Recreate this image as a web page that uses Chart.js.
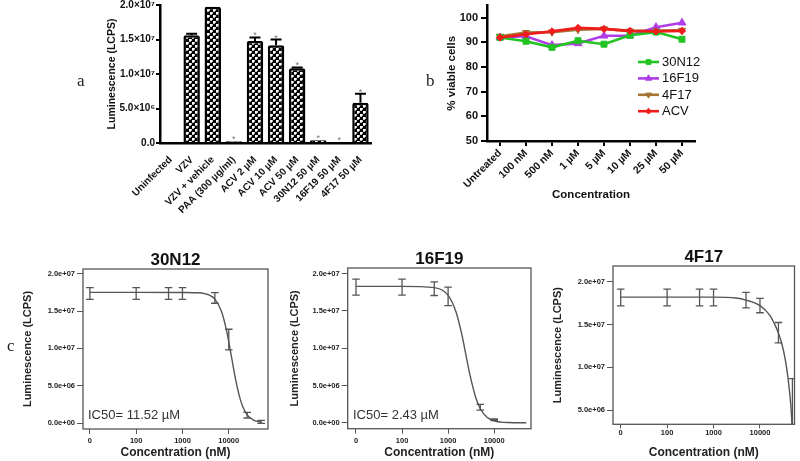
<!DOCTYPE html>
<html><head><meta charset="utf-8">
<script src="https://cdn.jsdelivr.net/npm/chart.js@4/dist/chart.umd.min.js"></script>
<style>
html,body{margin:0;padding:0;background:#fff;}
#wrap{position:relative;width:800px;height:461px;overflow:hidden;background:#fff;font-family:"Liberation Sans",Arial,sans-serif;}
canvas{position:absolute;}
.lbl{position:absolute;font-family:"Liberation Serif","Times New Roman",serif;font-size:17px;color:#222;line-height:1;}
.ic50{position:absolute;font-size:13px;color:#333;line-height:1;white-space:nowrap;}
</style></head><body>
<div id="wrap">
<canvas id="ca" width="400" height="240" style="left:0;top:0"></canvas>
<canvas id="cb" width="310" height="240" style="left:400px;top:0"></canvas>
<canvas id="c1" width="275" height="221" style="left:0;top:240px"></canvas>
<canvas id="c2" width="270" height="221" style="left:270px;top:240px"></canvas>
<canvas id="c3" width="270" height="221" style="left:530px;top:240px"></canvas>
<div class="lbl" style="left:77px;top:72px">a</div>
<div class="lbl" style="left:426px;top:72px">b</div>
<div class="lbl" style="left:7px;top:337px">c</div>
<div class="ic50" style="left:88px;top:408px">IC50= 11.52 µM</div>
<div class="ic50" style="left:353px;top:408px">IC50= 2.43 µM</div>
</div>
<script>
// ---------- Panel a data ----------
const aLabels = ['Uninfected','VZV','VZV + vehicle','PAA (300 µg/ml)','ACV 2 µM','ACV 10 µM','ACV 50 µM','30N12 50 µM','16F19 50 µM','4F17 50 µM'];
const aValues = [0, 15.6e6, 19.75e6, 0.25e6, 14.8e6, 14.15e6, 10.85e6, 0.4e6, 0.15e6, 5.84e6];
const aErrors = [0, 0.25e6, 0, 0, 0.5e6, 0.85e6, 0.1e6, 0, 0, 1.3e6];
const aStars  = [false,false,false,true,true,true,true,true,true,true];
const aTickValues = [0, 5e6, 1e7, 1.5e7, 2e7];
const aTickLabels = ['0.0','5.0×10⁶','1.0×10⁷','1.5×10⁷','2.0×10⁷'];

// ---------- Panel b data ----------
const bLabels = ['Untreated','100 nM','500 nM','1 µM','5 µM','10 µM','25 µM','50 µM'];
const b30N12 = [92.0, 90.5, 88.0, 90.7, 89.3, 92.9, 94.2, 91.3];
const b16F19 = [92.0, 92.5, 88.9, 89.6, 92.7, 92.7, 96.2, 98.0];
const b4F17  = [92.5, 94.0, 94.2, 95.2, 95.5, 94.6, 94.8, 94.9];
const bACV   = [92.0, 93.3, 94.5, 95.9, 95.5, 94.7, 94.5, 94.7];
const bNames = ['30N12','16F19','4F17','ACV'];

// ---------- Panel c data ----------
const cDoses = [0, 100, 500, 1000, 5000, 10000, 25000, 50000];   // nM ("0" shown at the 10 nM position)
const cTickValues = [10, 100, 1000, 10000];
const cTickLabels = ['0','100','1000','10000'];
const cYTickValues = [0, 5e6, 1e7, 1.5e7, 2e7];
const cYTickLabels = ['0.0e+00','5.0e+06','1.0e+07','1.5e+07','2.0e+07'];

const c1Means = [1.735e7, 1.735e7, 1.735e7, 1.735e7, 1.675e7, 1.118e7, 0.105e7, 0.015e7];
const c1Errs  = [0.078e7, 0.078e7, 0.078e7, 0.078e7, 0.071e7, 0.138e7, 0.038e7, 0.02e7];
const c1CurveX = [10, 100, 1000, 2000, 3000, 5000, 7000, 9000, 11520, 14000, 17000, 20000, 25000, 35000, 50000];
const c1CurveY = [1.75e7, 1.75e7, 1.748e7, 1.745e7, 1.734e7, 1.66e7, 1.49e7, 1.23e7, 0.875e7, 0.587e7, 0.357e7, 0.222e7, 0.109e7, 0.035e7, 0.01e7];

const c2Doses = [0, 100, 500, 1000, 5000, 10000];
const c2Means = [1.821e7, 1.821e7, 1.80e7, 1.696e7, 0.208e7, 0.04e7];
const c2Errs  = [0.107e7, 0.107e7, 0.092e7, 0.125e7, 0.038e7, 0.01e7];
const c2CurveX = [10, 100, 500, 1000, 1500, 2000, 2430, 3000, 4000, 5000, 7000, 10000, 20000, 50000];
const c2CurveY = [1.83e7, 1.83e7, 1.814e7, 1.71e7, 1.48e7, 1.175e7, 0.915e7, 0.635e7, 0.335e7, 0.188e7, 0.073e7, 0.026e7, 0.003e7, 0];

const c3Means = [1.816e7, 1.816e7, 1.816e7, 1.816e7, 1.785e7, 1.721e7, 1.404e7, 0.45e7];
const c3Errs  = [0.098e7, 0.098e7, 0.098e7, 0.098e7, 0.09e7, 0.084e7, 0.119e7, 0.417e7];
const c3CurveX = [10, 1000, 3000, 5000, 10000, 16200, 20000, 25400, 30000, 34200, 37200, 40300, 43800, 47600, 49000, 50000];
const c3CurveY = [1.82e7, 1.82e7, 1.81e7, 1.785e7, 1.72e7, 1.61e7, 1.52e7, 1.39e7, 1.26e7, 1.121e7, 1.004e7, 0.867e7, 0.691e7, 0.457e7, 0.30e7, 0.1e7];

// ---------- common ----------
const SANS = '"Liberation Sans", Arial, sans-serif';
Chart.defaults.font.family = SANS;
Chart.defaults.color = '#111';
Chart.defaults.animation = false;

// ---------- Panel a ----------
(function(){
  const cv = document.getElementById('ca');
  const ctx = cv.getContext('2d');
  const pc = document.createElement('canvas'); pc.width = 6; pc.height = 6;
  const g = pc.getContext('2d');
  g.fillStyle = '#000'; g.fillRect(0,0,6,6);
  g.fillStyle = '#fff'; g.fillRect(0,0,2,2); g.fillRect(3,3,2,2);
  g.fillStyle = '#bbb'; g.fillRect(2,0,1,2); g.fillRect(0,2,2,1); g.fillRect(5,3,1,2); g.fillRect(3,5,2,1);
  const pattern = ctx.createPattern(pc, 'repeat');

  const errPlugin = {
    id: 'aErr',
    afterDatasetsDraw(chart){
      const c = chart.ctx, meta = chart.getDatasetMeta(0), y = chart.scales.y;
      c.save();
      meta.data.forEach((bar, i) => {
        const base = y.getPixelForValue(aValues[i]);
        const top = y.getPixelForValue(aValues[i] + aErrors[i]);
        if (aErrors[i] > 0) {
          c.strokeStyle = '#000'; c.lineWidth = 2;
          c.beginPath(); c.moveTo(bar.x, base); c.lineTo(bar.x, top);
          c.moveTo(bar.x - 5.5, top); c.lineTo(bar.x + 5.5, top); c.stroke();
        }
        if (aStars[i]) {
          c.fillStyle = '#777'; c.font = '9px ' + SANS; c.textAlign = 'center'; c.textBaseline = 'alphabetic';
          c.fillText('*', bar.x, top + 1);
        }
      });
      c.restore();
    }
  };

  new Chart(cv, {
    type: 'bar',
    data: { labels: aLabels, datasets: [{ data: aValues, backgroundColor: pattern, borderColor: '#000', borderWidth: 2.5,
      barPercentage: 0.78, categoryPercentage: 1, borderSkipped: 'bottom', borderRadius: {topLeft: 2, topRight: 2} }] },
    options: {
      responsive: false, animation: false,
      layout: { padding: { left: 105.7, right: 29, top: 5, bottom: 0 } },
      plugins: { legend: { display: false }, tooltip: { enabled: false } },
      scales: {
        x: {
          grid: { display: false }, border: { display: true, width: 2.5, color: '#000' },
          ticks: { autoSkip: false, minRotation: 45, maxRotation: 45, font: { size: 10, weight: 'bold' }, color: '#111', padding: 3 },
          afterFit: s => { s.height = 97; s.paddingLeft = 0; s.paddingRight = 0; }
        },
        y: {
          min: 0, max: 2e7,
          ticks: { stepSize: 5e6, callback: v => aTickLabels[aTickValues.indexOf(v)], font: { size: 10, weight: 'bold' }, color: '#111', padding: 1 },
          grid: { drawOnChartArea: false, tickLength: 4, color: '#000', lineWidth: 2 },
          border: { display: true, width: 2.5, color: '#000' },
          title: { display: true, text: 'Luminescence (LCPS)', font: { size: 10.5, weight: 'bold' }, color: '#111', padding: 0 },
          afterFit: s => { s.width = 54.3; s.paddingTop = 0; s.paddingBottom = 0; }
        }
      }
    },
    plugins: [errPlugin]
  });
})();

// ---------- Panel b ----------
(function(){
  const cv = document.getElementById('cb');
  const colors = ['#22c322', '#b03ee6', '#a57535', '#f01c1c'];
  const styles = [
    { pointStyle: 'rect', rotation: 0, radius: 4.2 },
    { pointStyle: 'triangle', rotation: 0, radius: 4.5 },
    { pointStyle: 'triangle', rotation: 180, radius: 4.2 },
    { pointStyle: 'rectRot', rotation: 0, radius: 3.6 }
  ];
  const series = [b30N12, b16F19, b4F17, bACV];
  const orders = [1, 2, 3, 0];
  const datasets = series.map((d, i) => ({
    label: bNames[i], data: d, borderColor: colors[i], backgroundColor: colors[i], borderWidth: 2.6,
    pointStyle: styles[i].pointStyle, pointRotation: styles[i].rotation, pointRadius: styles[i].radius,
    pointBorderWidth: 1, tension: 0, order: orders[i]
  }));
  const legendPlugin = {
    id: 'bLegend',
    afterDraw(chart){
      const c = chart.ctx;
      c.save();
      bNames.forEach((n, i) => {
        const y = 62 + i * 16.4;
        c.strokeStyle = colors[i]; c.lineWidth = 2.6;
        c.beginPath(); c.moveTo(238, y); c.lineTo(259, y); c.stroke();
        c.fillStyle = colors[i]; c.strokeStyle = colors[i]; c.lineWidth = 1;
        Chart.helpers.drawPoint(c, { pointStyle: styles[i].pointStyle, rotation: styles[i].rotation, radius: styles[i].radius * 0.8, borderWidth: 1 }, 248.5, y);
        c.fillStyle = '#111'; c.font = '13px ' + SANS; c.textAlign = 'left'; c.textBaseline = 'middle';
        c.fillText(n, 262, y + 0.5);
      });
      c.restore();
    }
  };
  new Chart(cv, {
    type: 'line',
    data: { labels: bLabels, datasets },
    options: {
      responsive: false, animation: false,
      layout: { padding: { left: 44.8, right: 15, top: 3, bottom: 38.1 } },
      plugins: { legend: { display: false }, tooltip: { enabled: false } },
      scales: {
        x: {
          offset: true,
          grid: { display: true, drawOnChartArea: false, tickLength: 5, color: '#000', lineWidth: 2 },
          border: { display: true, width: 2.5, color: '#000' },
          ticks: { autoSkip: false, minRotation: 45, maxRotation: 45, font: { size: 10.5, weight: 'bold' }, color: '#111', padding: 1 },
          title: { display: true, text: 'Concentration', font: { size: 11.5, weight: 'bold' }, color: '#111', padding: 0 },
          afterFit: s => { s.height = 60.9; s.paddingLeft = 0; s.paddingRight = 0; }
        },
        y: {
          min: 50, max: 105,
          ticks: { stepSize: 10, font: { size: 11, weight: 'bold' }, color: '#111', padding: 3 },
          afterBuildTicks: s => { s.ticks = s.ticks.filter(t => t.value % 10 === 0); },
          grid: { drawOnChartArea: false, tickLength: 6, color: '#000', lineWidth: 2 },
          border: { display: true, width: 2.5, color: '#000' },
          title: { display: true, text: '% viable cells', font: { size: 11.5, weight: 'bold' }, color: '#111', padding: 0 },
          afterFit: s => { s.width = 42.2; s.paddingTop = 0; s.paddingBottom = 0; }
        }
      }
    },
    plugins: [legendPlugin]
  });
})();

// ---------- Panel c ----------
function cChart(id, title, doses, means, errs, curveX, curveY, g) {
  const pts = doses.map((d, i) => ({ x: d === 0 ? 10 : d, y: means[i] }));
  const curve = curveX.map((x, i) => ({ x, y: curveY[i] }));
  const framePlugin = {
    id: 'frame',
    afterDraw(chart){
      const { left, top, right, bottom } = chart.chartArea, c = chart.ctx;
      c.save(); c.strokeStyle = '#555'; c.lineWidth = 1.3;
      c.strokeRect(left, top, right - left, bottom - top); c.restore();
    }
  };
  const errPlugin = {
    id: 'cErr',
    afterDatasetsDraw(chart){
      const ca = chart.chartArea, c = chart.ctx, ys = chart.scales.y;
      const meta = chart.getDatasetMeta(1);
      c.save();
      c.beginPath(); c.rect(ca.left, ca.top, ca.right - ca.left, ca.bottom - ca.top); c.clip();
      c.strokeStyle = '#555'; c.lineWidth = 1.3;
      meta.data.forEach((p, i) => {
        const y1 = ys.getPixelForValue(means[i] - errs[i]), y2 = ys.getPixelForValue(means[i] + errs[i]);
        c.beginPath();
        c.moveTo(p.x, y1); c.lineTo(p.x, y2);
        c.moveTo(p.x - 3.8, y1); c.lineTo(p.x + 3.8, y1);
        c.moveTo(p.x - 3.8, y2); c.lineTo(p.x + 3.8, y2);
        c.stroke();
      });
      c.restore();
    }
  };
  new Chart(document.getElementById(id), {
    type: 'scatter',
    data: { datasets: [
      { data: curve, showLine: true, borderColor: '#555', borderWidth: 1.4, pointRadius: 0, cubicInterpolationMode: 'monotone' },
      { data: pts, showLine: false, pointRadius: 0 }
    ] },
    options: {
      responsive: false, animation: false,
      layout: { padding: { left: g.pl, right: g.pr, top: 0, bottom: g.pb } },
      plugins: {
        legend: { display: false }, tooltip: { enabled: false },
        title: { display: true, text: title, fullSize: false, color: '#111',
          font: { size: 17, weight: 'bold', lineHeight: 1 }, padding: { top: g.tpt, bottom: g.tpb } }
      },
      scales: {
        x: {
          type: 'logarithmic', min: g.xmin, max: g.xmax,
          afterBuildTicks: s => { s.ticks = cTickValues.map(v => ({ value: v })); },
          ticks: { callback: (v) => cTickLabels[cTickValues.indexOf(v)], font: { size: 7.5, weight: 'bold' }, color: '#222', padding: g.xpad, autoSkip: false, maxRotation: 0 },
          grid: { display: true, drawOnChartArea: false, tickLength: g.xtick, color: '#555', lineWidth: 1 },
          border: { display: false },
          title: { display: true, text: 'Concentration (nM)', font: { size: 12, weight: 'bold' }, color: '#222', padding: 0 },
          afterFit: s => { s.height = g.xh; s.paddingLeft = 0; s.paddingRight = 0; }
        },
        y: {
          min: g.ymin, max: g.ymax,
          afterBuildTicks: s => { s.ticks = cYTickValues.filter(v => v >= g.ymin && v <= g.ymax).map(v => ({ value: v })); },
          ticks: { callback: (v) => cYTickLabels[cYTickValues.indexOf(v)], font: { size: 7.5, weight: 'bold' }, color: '#222', padding: 2 },
          grid: { display: true, drawOnChartArea: false, tickLength: 6, color: '#555', lineWidth: 1 },
          border: { display: false },
          title: { display: true, text: 'Luminescence (LCPS)', font: { size: 11, weight: 'bold' }, color: '#222', padding: 0 },
          afterFit: s => { s.width = g.yw; s.paddingTop = 0; s.paddingBottom = 0; }
        }
      }
    },
    plugins: [framePlugin, errPlugin]
  });
}

cChart('c1', '30N12', cDoses, c1Means, c1Errs, c1CurveX, c1CurveY,
  { pl: 21.4, pr: 7, pb: 0.8, yw: 61.6, xh: 31.2, tpt: 11.5, tpb: 0.5, xpad: 2.5, xtick: 5,
    xmin: Math.pow(10, 0.852), xmax: Math.pow(10, 4.847), ymin: -0.8e6, ymax: 2.063e7 });
cChart('c2', '16F19', c2Doses, c2Means, c2Errs, c2CurveX, c2CurveY,
  { pl: 18.4, pr: 9, pb: 0.8, yw: 59.3, xh: 31.5, tpt: 11, tpb: 0, xpad: 2.5, xtick: 5,
    xmin: Math.pow(10, 0.82), xmax: Math.pow(10, 4.8), ymin: -0.8e6, ymax: 2.077e7 });
cChart('c3', '4F17', cDoses, c3Means, c3Errs, c3CurveX, c3CurveY,
  { pl: 21.4, pr: 5.5, pb: 0.8, yw: 61.6, xh: 35.9, tpt: 8.5, tpb: 0.5, xpad: 0, xtick: 4,
    xmin: Math.pow(10, 0.834), xmax: Math.pow(10, 4.744), ymin: 3.33e6, ymax: 2.1835e7 });
</script>
</body></html>
